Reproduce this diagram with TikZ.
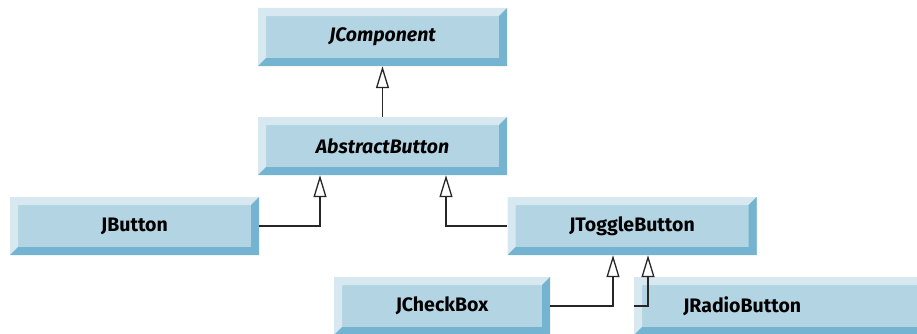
\documentclass[tikz,border=0pt]{standalone}
\usepackage{fontspec}
\setsansfont{Fira Sans}
\usetikzlibrary{positioning, arrows.meta, calc}
\definecolor{myface}{RGB}{179,212,227}
\definecolor{mylight}{RGB}{216,232,240}
\definecolor{mydark}{RGB}{117,180,208}
\tikzset{
  classbox/.style={rectangle, fill=myface, inner sep=0, minimum width=249, 
    minimum height=58, font=\sffamily\bfseries\fontsize{19.5}{22}\selectfont,
    path picture={
      \fill[mylight] (path picture bounding box.north west) -- (path picture bounding box.north east)
        -- ($(path picture bounding box.north east)+(-8,-8)$) -- ($(path picture bounding box.north west)+(8,-8)$)
        -- ($(path picture bounding box.south west)+(8,8)$) -- (path picture bounding box.south west) -- cycle;
      \fill[mydark] (path picture bounding box.south east) -- (path picture bounding box.north east)
        -- ($(path picture bounding box.north east)+(-8,-8)$) -- ($(path picture bounding box.south east)+(-8,8)$)
        -- ($(path picture bounding box.south west)+(8,8)$) -- (path picture bounding box.south west) -- cycle;
    }},
  abstractbox/.style={classbox, font=\sffamily\bfseries\itshape\fontsize{19.5}{22}\selectfont},
  inherit/.style={line width=1.3, draw=black!85, -{Triangle[open, width=13, length=22, line width=1.3]}}
}

\begin{document}
\begin{tikzpicture}[x=1pt, y=1pt]
\useasboundingbox (0,0) rectangle (917,333);

% classes
\node [abstractbox] (jcomponent) at (382.5,296) {JComponent};
\node [abstractbox] (abstractbutton) at (382.5,187) {AbstractButton};
\node [classbox] (jbutton) at (134.5,107) {JButton};
\node [classbox] (jtogglebutton) at (632,107) {JToggleButton};
\node [classbox, minimum width=216] (jcheckbox) at (442,27) {JCheckBox};
\node [classbox, minimum width=300, anchor=west] (jradiobutton) at (634,27) {JRadioButton\hspace*{84pt}};

% inheritance
\draw[inherit] (abstractbutton.north) -- (jcomponent.south);
\draw[inherit] (jbutton.east) -| ([xshift=-62.5]abstractbutton.south);
\draw[inherit] (jtogglebutton.west) -| ([xshift=63.5]abstractbutton.south);
\draw[inherit] (jcheckbox.east) -| ([xshift=-19]jtogglebutton.south);
\draw[inherit] (jradiobutton.west) -| ([xshift=16]jtogglebutton.south);

\end{tikzpicture}
\end{document}
